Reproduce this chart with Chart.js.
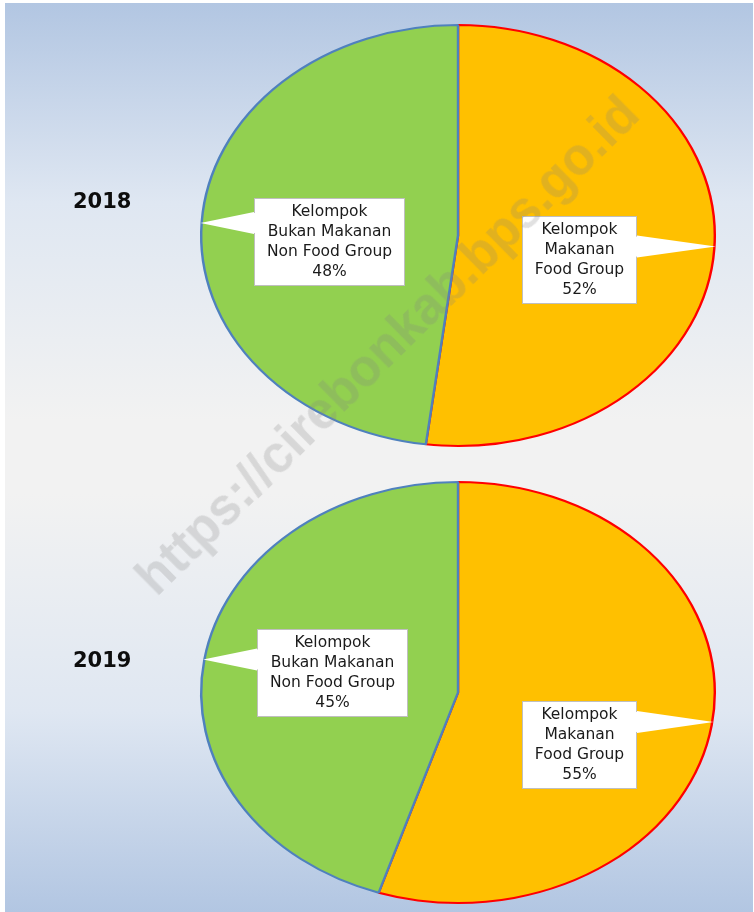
<!DOCTYPE html>
<html>
<head>
<meta charset="utf-8">
<script src="https://cdn.jsdelivr.net/npm/chart.js@4.4.1/dist/chart.umd.min.js"></script>
<style>
  html,body{margin:0;padding:0;background:#fff;}
  body{width:754px;height:912px;position:relative;overflow:hidden;font-family:"DejaVu Sans",sans-serif;}
  .frame{position:absolute;left:5px;top:3px;width:748px;height:909px;
    background:linear-gradient(to bottom,#b2c6e2 0%,#dfe7f2 22%,#f2f2f2 46%,#f2f2f2 54%,#dfe7f2 78%,#b2c6e2 100%);}
  canvas{position:absolute;left:0;}
  .year{position:absolute;left:73px;font:bold 21px "DejaVu Sans",sans-serif;color:#0d0d0d;line-height:24px;}
  .wm{position:absolute;left:387px;top:345px;transform:translate(-50%,-50%) rotate(-44.7deg);
    font:bold 51px "Liberation Sans",Arial,sans-serif;color:rgba(128,128,128,0.24);white-space:nowrap;pointer-events:none;}
</style>
</head>
<body>
<div class="frame"></div>
<canvas id="pie2018" width="754" height="443" style="top:14px;width:754px;height:443px"></canvas>
<canvas id="pie2019" width="754" height="443" style="top:471px;width:754px;height:443px"></canvas>
<div class="year" style="top:189px">2018</div>
<div class="year" style="top:648px">2019</div>
<div class="wm">https://cirebonkab.bps.go.id</div>
<script>
// data
const years = ['2018', '2019'];
const groupNames = [
  ['Kelompok', 'Makanan', 'Food Group'],
  ['Kelompok', 'Bukan Makanan', 'Non Food Group']
];
const foodShare = [52, 55];
const nonFoodShare = [48, 45];
const sliceFill = ['#ffc000', '#92d050'];
const sliceBorder = ['#ff0000', '#4f81bd'];

// the original pies are stretched sideways into ellipses
const STRETCH_X = 1.22;
const LINE_H = 20;

// callout placement, relative to the pie centre; tip = angle clockwise from 12 o'clock
const CALLOUTS = {
  '2018': [{dx:121, dy:24.5, tip:93}, {dx:-128.5, dy:6.5, tip:273.4}],
  '2019': [{dx:121, dy:52, tip:98}, {dx:-125.5, dy:-19.5, tip:279}]
};

const ellipsePie = {
  id:'ellipsePie',
  beforeDatasetsDraw(chart){
    const arc = chart.getDatasetMeta(0).data[0];
    const ctx = chart.ctx;
    ctx.save();
    ctx.translate(arc.x, arc.y);
    ctx.scale(STRETCH_X, 1);
    ctx.translate(-arc.x, -arc.y);
  },
  afterDatasetsDraw(chart){
    chart.ctx.restore();
  }
};

const callouts = {
  id:'callouts',
  afterDraw(chart, args, opts){
    const ctx = chart.ctx;
    const meta = chart.getDatasetMeta(0);
    const {x:cx, y:cy, outerRadius} = meta.data[0];
    const R = outerRadius + 1;
    ctx.save();
    ctx.font = '15.5px "DejaVu Sans", sans-serif';
    chart.data.datasets[0].data.forEach((v, i) => {
      const c = opts.items[i];
      const lines = [...chart.data.labels[i], v + '%'];
      const w = Math.round(Math.max(...lines.map(l => ctx.measureText(l).width)) + 26);
      const h = lines.length * LINE_H + 8;
      const bx = Math.round(cx + c.dx - w / 2);
      const by = Math.round(cy + c.dy - h / 2);
      const th = c.tip * Math.PI / 180;
      const tx = cx + STRETCH_X * R * Math.sin(th);
      const ty = cy - R * Math.cos(th);

      ctx.fillStyle = '#fff';
      ctx.fillRect(bx, by, w, h);
      ctx.strokeStyle = '#bfbfbf';
      ctx.lineWidth = 1;
      ctx.strokeRect(bx + 0.5, by + 0.5, w - 1, h - 1);

      const side = tx < bx ? bx : bx + w;
      const mid = Math.min(Math.max(ty, by + 12), by + h - 12);
      ctx.beginPath();
      ctx.moveTo(side, mid - 11);
      ctx.lineTo(tx, ty);
      ctx.lineTo(side, mid + 11);
      ctx.closePath();
      ctx.fill();
      ctx.fillRect(side - 1.5, mid - 10, 3, 20);

      ctx.fillStyle = '#1a1a1a';
      ctx.textAlign = 'center';
      ctx.textBaseline = 'middle';
      lines.forEach((l, k) => ctx.fillText(l, bx + w / 2, by + 4 + LINE_H * (k + 0.5)));
    });
    ctx.restore();
  }
};

function drawPie(id, yi){
  new Chart(document.getElementById(id), {
    type:'pie',
    data:{
      labels:groupNames,
      datasets:[{
        data:[foodShare[yi], nonFoodShare[yi]],
        backgroundColor:sliceFill,
        borderColor:sliceBorder,
        borderWidth:2,
        clip:false
      }]
    },
    options:{
      responsive:false,
      animation:false,
      events:[],
      layout:{padding:{left:162, right:0, top:10, bottom:10}},
      plugins:{
        legend:{display:false},
        tooltip:{enabled:false},
        callouts:{items:CALLOUTS[years[yi]]}
      }
    },
    plugins:[ellipsePie, callouts]
  });
}

drawPie('pie2018', 0);
drawPie('pie2019', 1);
</script>
</body>
</html>
